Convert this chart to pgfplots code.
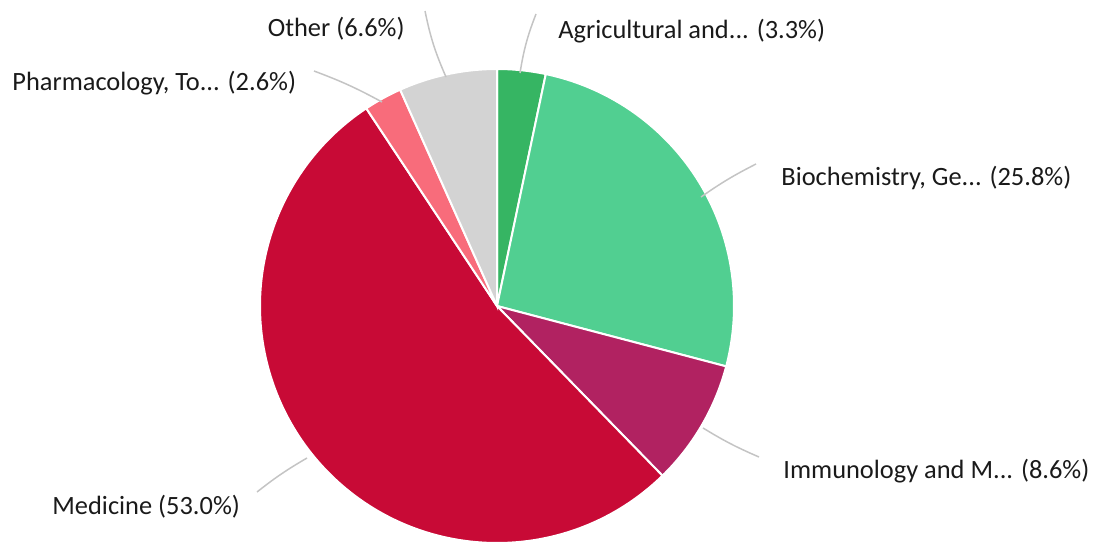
\documentclass[border=0pt]{standalone}
\usepackage{pgfplots}
\pgfplotsset{compat=1.18}
\usepackage{fontspec}
\setmainfont{Carlito}
\definecolor{cAgri}{HTML}{36B563}
\definecolor{cBio}{HTML}{51CF91}
\definecolor{cImm}{HTML}{B12261}
\definecolor{cMed}{HTML}{C80A36}
\definecolor{cPha}{HTML}{F86C7B}
\definecolor{cOth}{HTML}{D3D3D3}
\definecolor{cTxt}{HTML}{1A1A1A}
\definecolor{cLead}{HTML}{C4C4C4}
% slice: cumulative start %, cumulative end %, colour
\newcommand\slice[3]{\fill[#3, draw=white, line width=1pt] (axis cs:497,237) -- ++({90-3.6*#1}:118.5pt) arc[start angle={90-3.6*#1}, end angle={90-3.6*#2}, radius=118.5pt] -- cycle;}
\begin{document}
\begin{tikzpicture}
\begin{axis}[
  scale only axis, width=553pt, height=271.5pt,
  xmin=0, xmax=1106, ymin=0, ymax=543,
  hide axis, clip=false,
]
% shares (percent): Agricultural 3.3, Biochemistry 25.8, Immunology 8.6, Medicine 53.0, Pharmacology 2.6, Other 6.6
\slice{0}{3.3}{cAgri}
\slice{3.3}{29.1}{cBio}
\slice{29.1}{37.7}{cImm}
\slice{37.7}{90.7}{cMed}
\slice{90.7}{93.3}{cPha}
\slice{93.3}{100}{cOth}
\begin{scope}[cLead, line width=0.75pt]
\draw (axis cs:520,470) to[bend left=6] (axis cs:536,529);
\draw (axis cs:446,466) to[bend left=6] (axis cs:425,532);
\draw (axis cs:382,441) to[bend right=4] (axis cs:314,472);
\draw (axis cs:701,346) to[bend left=4] (axis cs:756,379);
\draw (axis cs:703,115) to[bend right=4] (axis cs:759,86);
\draw (axis cs:307,85) to[bend right=4] (axis cs:257,51);
\end{scope}
\begin{scope}[every node/.style={text=cTxt, font=\fontsize{13.2}{15}\selectfont, inner sep=0pt}]
\node[anchor=west] at (axis cs:558,512) {Agricultural and... (3.3\%)};
\node[anchor=east] at (axis cs:405,514) {Other (6.6\%)};
\node[anchor=west] at (axis cs:12,460) {Pharmacology, To... (2.6\%)};
\node[anchor=west] at (axis cs:781,365) {Biochemistry, Ge... (25.8\%)};
\node[anchor=west] at (axis cs:783,72) {Immunology and M... (8.6\%)};
\node[anchor=west] at (axis cs:52,36) {Medicine (53.0\%)};
\end{scope}
\end{axis}
\pgfresetboundingbox
\useasboundingbox (current axis.south west) rectangle (current axis.north east);
\end{tikzpicture}
\end{document}
